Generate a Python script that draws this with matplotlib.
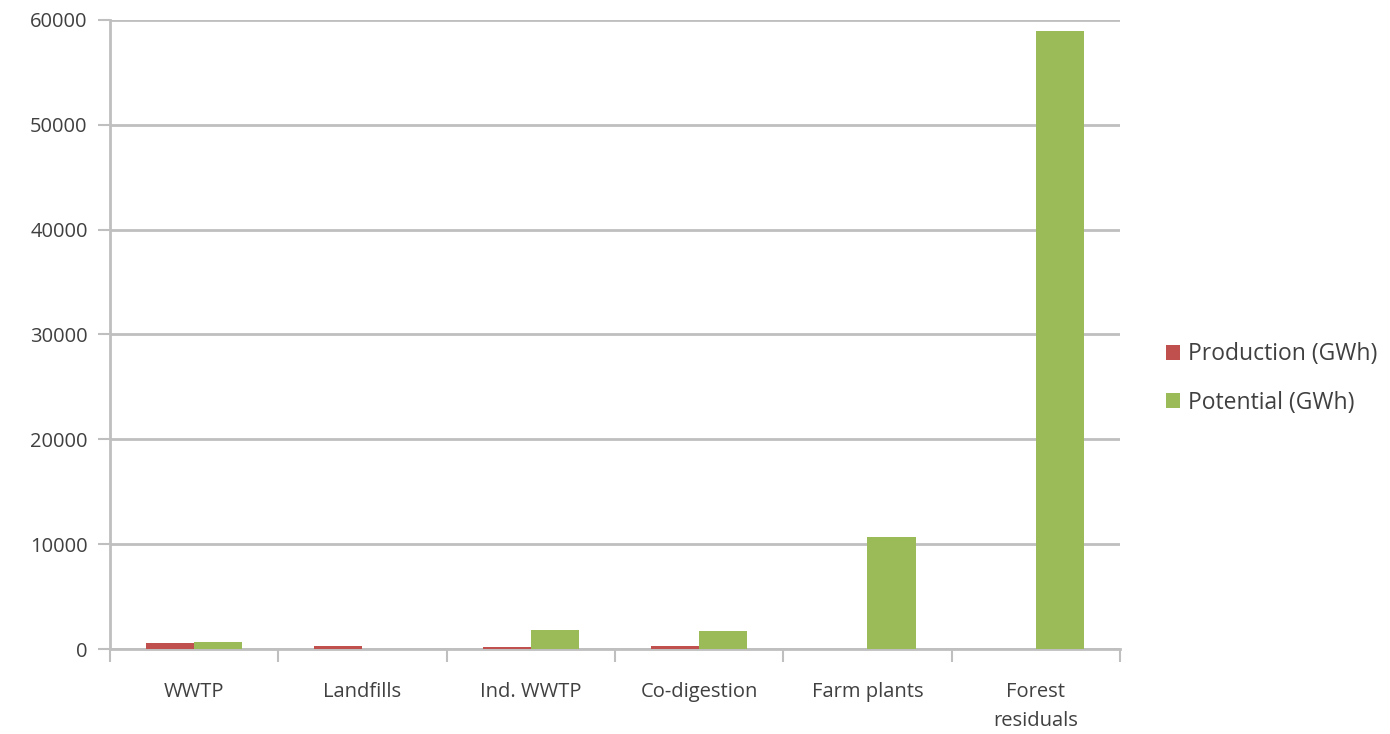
import numpy as np
import matplotlib.pyplot as plt

plt.rcParams['font.family'] = ['Open Sans', 'DejaVu Sans']

categories = ['WWTP', 'Landfills', 'Ind. WWTP', 'Co-digestion', 'Farm plants', 'Forest\nresiduals']
production = [580, 290, 190, 290, 0, 0]
potential = [680, 0, 1840, 1750, 10730, 58900]

red = '#C0504D'
green = '#9BBB59'
grid_col = '#BFBFBF'
text_col = '#404040'

fig = plt.figure(figsize=(13.9, 7.34), dpi=100)
ax = fig.add_axes([0.0791, 0.1158, 0.7266, 0.857])

x = np.arange(len(categories))
w = 1 / 3.5
ax.bar(x - w / 2, production, width=w, color=red, label='Production (GWh)', zorder=3)
ax.bar(x + w / 2, potential, width=w, color=green, label='Potential (GWh)', zorder=3)

ax.set_xlim(-0.5, len(categories) - 0.5)
ax.set_ylim(0, 60000)
ax.set_yticks(np.arange(0, 60001, 10000))
ax.yaxis.grid(True, color=grid_col, linewidth=2, zorder=0)

# category boundaries get the tick marks, labels sit in the middle
ax.set_xticks(np.arange(-0.5, len(categories), 1))
ax.set_xticklabels([])
ax.set_xticks(x, minor=True)
ax.set_xticklabels(categories, minor=True, linespacing=1.55)
ax.tick_params(axis='x', which='minor', length=0, pad=24, labelsize=14.5, labelcolor=text_col)
ax.tick_params(axis='x', which='major', length=9, width=1.5, color=grid_col)
ax.tick_params(axis='y', length=9, width=1.5, color=grid_col, pad=7, labelsize=14.5, labelcolor=text_col)

for s in ['top', 'right']:
    ax.spines[s].set_visible(False)
for s in ['left', 'bottom']:
    ax.spines[s].set_color(grid_col)
    ax.spines[s].set_linewidth(2)

leg = ax.legend(loc='center left', bbox_to_anchor=(1.025, 0.43), frameon=False,
                fontsize=16.5, handlelength=0.6, handleheight=0.6, handletextpad=0.35,
                labelspacing=1.05)
for t in leg.get_texts():
    t.set_color(text_col)

fig.savefig('out.png', dpi=100)
